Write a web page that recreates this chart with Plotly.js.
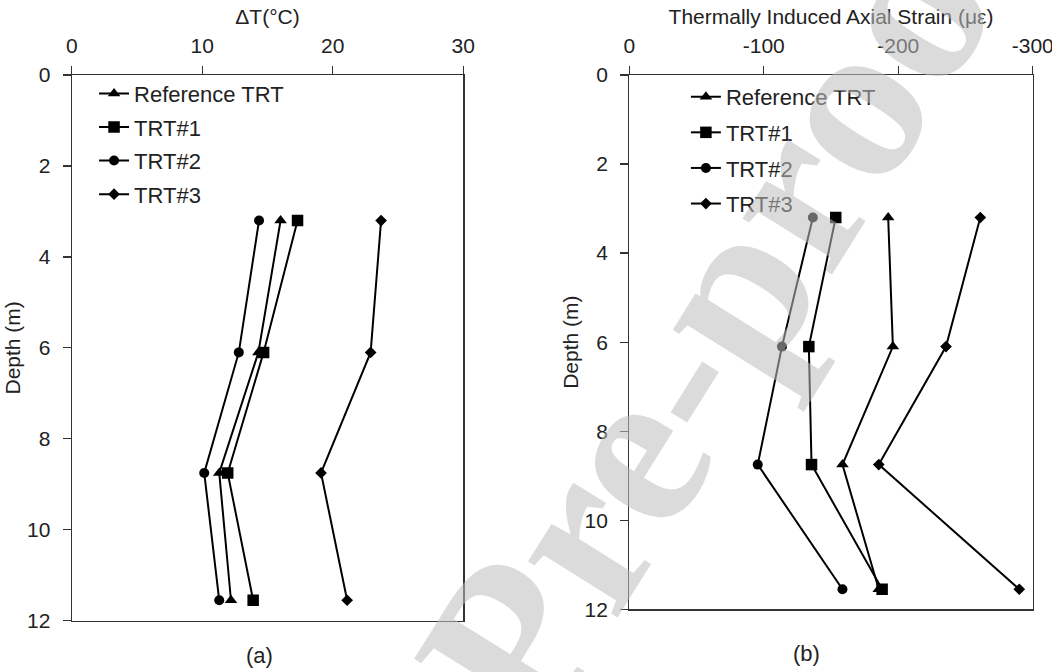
<!DOCTYPE html>
<html>
<head>
<meta charset="utf-8">
<script src="https://cdn.plot.ly/plotly-3.0.1.min.js"></script>
<style>
  html, body { margin: 0; padding: 0; background: #fff; }
  #chart { width: 1052px; height: 672px; }
</style>
</head>
<body>
<div id="chart"></div>
<script>
// ---- data ----
const seriesNames = ['Reference TRT', 'TRT#1', 'TRT#2', 'TRT#3'];
const depths = [3.2, 6.1, 8.75, 11.55];

// (a) temperature change, deg C
const dTRef  = [16.0, 14.3, 11.3, 12.2];
const dTTRT1 = [17.3, 14.7, 11.95, 13.9];
const dTTRT2 = [14.35, 12.8, 10.15, 11.3];
const dTTRT3 = [23.7, 22.9, 19.1, 21.1];

// (b) thermally induced axial strain, microstrain
const strainRef  = [-192.5, -196, -158.5, -185.5];
const strainTRT1 = [-153.5, -133.5, -135.5, -188];
const strainTRT2 = [-136.5, -113.5, -95.5, -158.5];
const strainTRT3 = [-261, -235.5, -185.5, -290];

const dTTickVals = [0, 10, 20, 30];
const strainTickVals = [0, -100, -200, -300];
const strainTickText = ['0', '-100', '-200', '-300'];
const depthTickVals = [0, 2, 4, 6, 8, 10, 12];

const panelLabels = ['(a)', '(b)'];
const watermarkText = 'Pre-proof';

// ---- styles ----
const symbols = ['triangle-up', 'square', 'circle', 'diamond'];
const sizes = [11, 11.5, 10, 9];
const FONT = 'Liberation Sans, Arial, sans-serif';
const TXT = '#222222';

const dTSeries = [dTRef, dTTRT1, dTTRT2, dTTRT3];
const strainSeries = [strainRef, strainTRT1, strainTRT2, strainTRT3];

const traces = [];
dTSeries.forEach((vals, i) => {
  traces.push({
    type: 'scatter', mode: 'lines+markers',
    x: vals, y: depths, xaxis: 'x', yaxis: 'y',
    name: seriesNames[i], legend: 'legend', legendgroup: 'a' + i,
    line: { color: '#000', width: 2 },
    marker: { symbol: symbols[i], size: sizes[i], color: '#000' }
  });
});
strainSeries.forEach((vals, i) => {
  traces.push({
    type: 'scatter', mode: 'lines+markers',
    x: vals, y: depths, xaxis: 'x2', yaxis: 'y2',
    name: seriesNames[i], legend: 'legend2', legendgroup: 'b' + i,
    line: { color: '#000', width: 2 },
    marker: { symbol: symbols[i], size: sizes[i], color: '#000' }
  });
});

const axisCommon = {
  showline: true, linecolor: '#333', linewidth: 1.2, mirror: true,
  ticks: 'outside', ticklen: 8, tickcolor: '#333', tickwidth: 1.2,
  showgrid: false, zeroline: false, automargin: false,
  ticklabeloverflow: 'allow',
  tickfont: { family: FONT, size: 21, color: TXT }
};

const layout = {
  width: 1052, height: 672,
  margin: { l: 0, r: 0, t: 0, b: 0 },
  paper_bgcolor: '#fff', plot_bgcolor: '#fff',
  font: { family: FONT, color: TXT },
  showlegend: true,
  xaxis: Object.assign({}, axisCommon, {
    domain: [0.0682, 0.4404], range: [0, 30], side: 'top', anchor: 'y',
    tickvals: dTTickVals, ticklabelstandoff: 4,
    title: { text: 'ΔT(°C)', font: { family: FONT, size: 21, color: TXT }, standoff: 4 }
  }),
  yaxis: Object.assign({}, axisCommon, {
    domain: [0.0763, 0.8884], range: [12, 0], anchor: 'x',
    tickvals: depthTickVals, ticklabelstandoff: 8,
    title: { text: 'Depth (m)', font: { family: FONT, size: 21, color: TXT }, standoff: 0 }
  }),
  xaxis2: Object.assign({}, axisCommon, {
    domain: [0.5982, 0.9817], range: [0, -300], side: 'top', anchor: 'y2',
    tickvals: strainTickVals, ticktext: strainTickText, ticklabelstandoff: 4,
    title: { text: 'Thermally Induced Axial Strain (με)', font: { family: FONT, size: 21, color: TXT }, standoff: 4 }
  }),
  yaxis2: Object.assign({}, axisCommon, {
    domain: [0.0933, 0.8884], range: [12, 0], anchor: 'x2',
    tickvals: depthTickVals, ticklabelstandoff: 8,
    title: { text: 'Depth (m)', font: { family: FONT, size: 21, color: TXT }, standoff: 0 }
  }),
  legend: {
    x: 0.0894, y: 0.892, xanchor: 'left', yanchor: 'top',
    bgcolor: 'rgba(0,0,0,0)', borderwidth: 0,
    font: { family: FONT, size: 22, color: TXT },
    tracegroupgap: 2, itemwidth: 30
  },
  legend2: {
    x: 0.652, y: 0.887, xanchor: 'left', yanchor: 'top',
    bgcolor: 'rgba(0,0,0,0)', borderwidth: 0,
    font: { family: FONT, size: 22, color: TXT },
    tracegroupgap: 4, itemwidth: 30
  },
  annotations: [
    { text: panelLabels[0], xref: 'paper', yref: 'paper', x: 0.247, y: 0.025,
      xanchor: 'center', yanchor: 'middle',
      showarrow: false, font: { family: FONT, size: 22, color: TXT } },
    { text: panelLabels[1], xref: 'paper', yref: 'paper', x: 0.767, y: 0.028,
      xanchor: 'center', yanchor: 'middle',
      showarrow: false, font: { family: FONT, size: 22, color: TXT } },
    { text: '<b>' + watermarkText + '</b>', xref: 'paper', yref: 'paper',
      x: 0.690, y: 0.558, xanchor: 'center', yanchor: 'middle',
      textangle: -58, showarrow: false,
      font: { family: 'Liberation Serif, serif', size: 230, color: 'rgba(190,190,190,0.55)' } }
  ]
};

Plotly.newPlot('chart', traces, layout, { displayModeBar: false, staticPlot: true });
</script>
</body>
</html>
